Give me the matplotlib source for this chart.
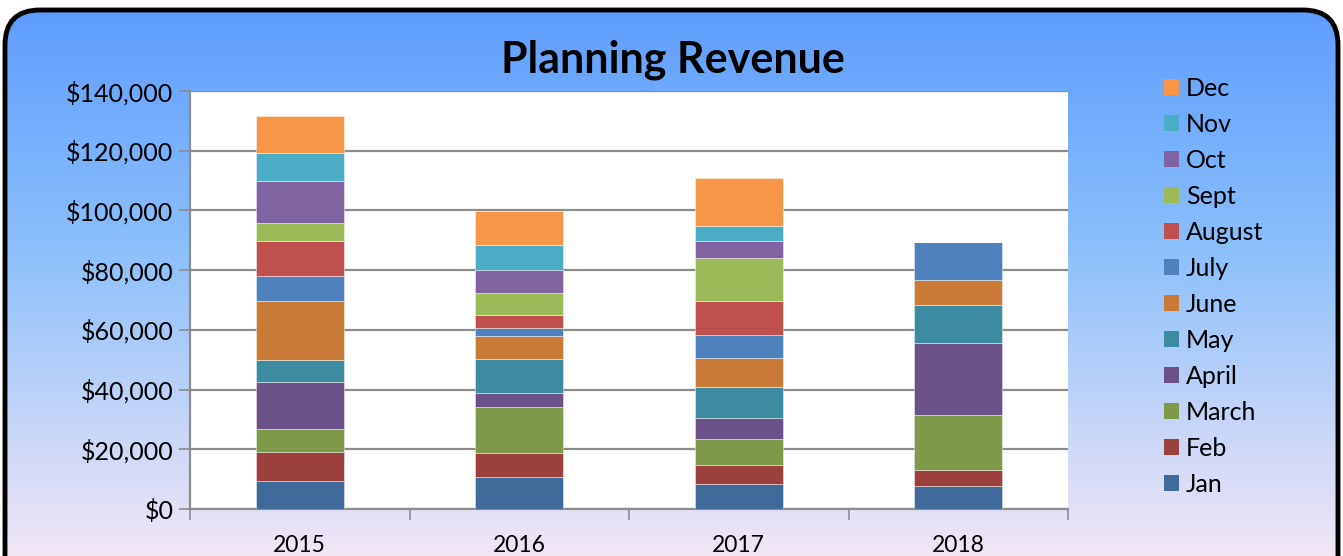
import numpy as np
import matplotlib.pyplot as plt
from matplotlib.patches import FancyBboxPatch, Patch
from matplotlib.ticker import FuncFormatter

plt.rcParams['font.family'] = ['Lato', 'DejaVu Sans']

# chart data
years = ['2015', '2016', '2017', '2018']
months = ['Jan', 'Feb', 'March', 'April', 'May', 'June',
          'July', 'August', 'Sept', 'Oct', 'Nov', 'Dec']
jan = [9300, 10600, 8500, 7700]
feb = [9900, 8200, 6200, 5400]
march = [7600, 15400, 8700, 18400]
april = [15800, 4700, 7000, 24000]
may = [7300, 11300, 10500, 12700]
june = [19700, 7700, 9800, 8400]
july = [8400, 2800, 7600, 12700]
august = [11700, 4300, 11300, 0]
sept = [6000, 7300, 14400, 0]
october = [14200, 7800, 5700, 0]
nov = [9300, 8400, 5000, 0]
dec = [12500, 11400, 16100, 0]
series = [jan, feb, march, april, may, june, july, august, sept, october, nov, dec]

colors = ['#406a9a', '#9c403e', '#7f994a', '#6a5187', '#3d8ba1', '#c97a37',
          '#4f81bd', '#c0504d', '#9bbb59', '#8064a2', '#4bacc6', '#f79646']

W, H = 1343, 556
fig = plt.figure(figsize=(W / 100, H / 100), dpi=100)

# background panel with gradient and rounded black border
bg = fig.add_axes([0, 0, 1, 1], zorder=0)
bg.set_xlim(0, W)
bg.set_ylim(H, 0)
bg.axis('off')
top = np.array([0x5c, 0x9c, 0xfe]) / 255
mid = np.array([0x8c, 0xc0, 0xfb]) / 255
bot = np.array([0xf2, 0xe6, 0xf6]) / 255
t = np.linspace(0, 1, 300)[:, None]
grad = np.where(t < 0.45, top + (mid - top) * (t / 0.45),
                mid + (bot - mid) * ((t - 0.45) / 0.55))
img = bg.imshow(grad[:, None, :], extent=[0, W, H, 0], aspect='auto')
box = FancyBboxPatch((5, 10), W - 10, H + 40, boxstyle='round,pad=0,rounding_size=35',
                     facecolor='none', edgecolor='black', linewidth=3.5)
bg.add_patch(box)
img.set_clip_path(box)

# main plot
ax = fig.add_axes([190 / W, (H - 509) / H, 878 / W, 418 / H], zorder=1)
ax.set_facecolor('white')
x = np.arange(len(years))
bottom = np.zeros(len(years))
for vals, c, m in zip(series, colors, months):
    ax.bar(x, vals, 0.4, bottom=bottom, color=c, label=m,
           edgecolor=(1, 1, 1, 0.5), linewidth=0.6, zorder=3)
    bottom += np.array(vals)

ax.set_xlim(-0.5, 3.5)
ax.set_ylim(0, 140000)
ax.set_yticks(np.arange(0, 140001, 20000))
ax.yaxis.set_major_formatter(FuncFormatter(lambda v, p: '${:,.0f}'.format(v)))
ax.yaxis.grid(True, color='#8c8c8c', linewidth=1.6, zorder=1)
ax.set_xticks(x)
ax.set_xticklabels(years)
ax.set_xticks(np.arange(-0.5, 4, 1), minor=True)
ax.tick_params(axis='x', which='major', length=0, labelsize=16.5, pad=19)
ax.tick_params(axis='x', which='minor', length=8, color='#8c8c8c', width=1.2)
ax.tick_params(axis='y', length=8, color='#8c8c8c', width=1.2, labelsize=18, pad=4)
for s in ['top', 'right']:
    ax.spines[s].set_visible(False)
for s in ['left', 'bottom']:
    ax.spines[s].set_color('#8c8c8c')
    ax.spines[s].set_linewidth(1.6)

fig.text(673 / W, 1 - 60 / H, 'Planning Revenue', ha='center', va='center',
         fontsize=31, fontweight='bold')

handles = [Patch(facecolor=c, label=m) for c, m in zip(colors, months)][::-1]
fig.legend(handles=handles, loc='upper left', bbox_to_anchor=(1141 / W, 1 - 54 / H),
           frameon=False, fontsize=18, handlelength=0.6, handleheight=0.6,
           handletextpad=0.3, labelspacing=0.52)

fig.savefig('out.png', dpi=100)
